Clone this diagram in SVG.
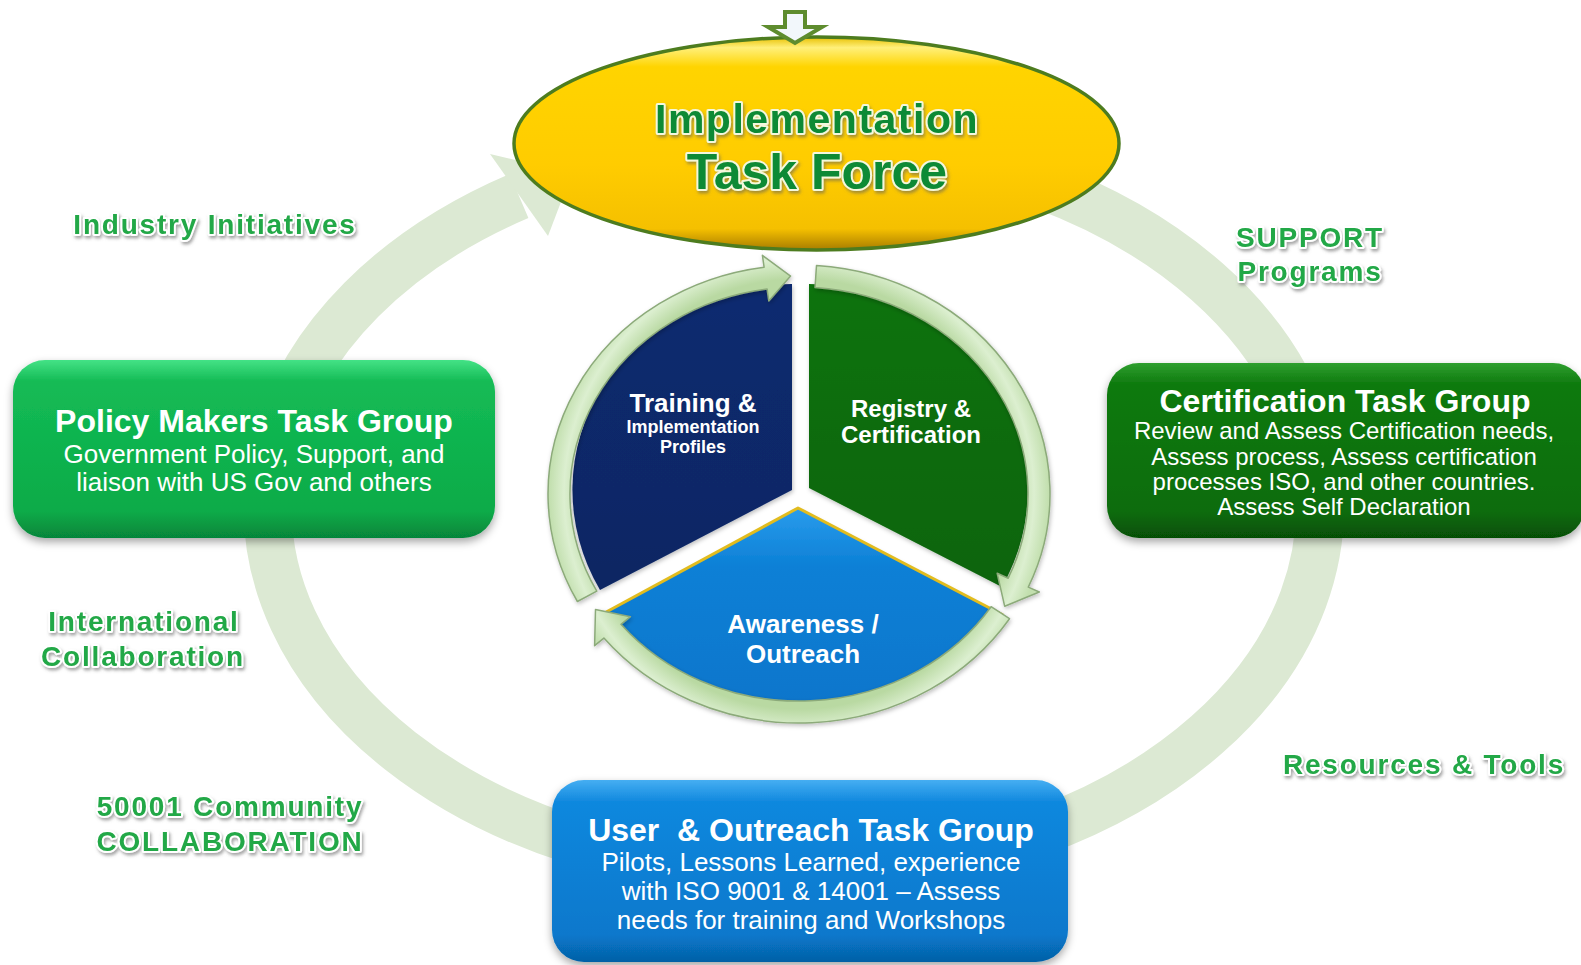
<svg xmlns="http://www.w3.org/2000/svg" width="1581" height="965" viewBox="0 0 1581 965">
<defs>
<style>
.lbl{font-family:"Liberation Sans",Arial,sans-serif;font-weight:bold;font-size:28px;letter-spacing:1.8px;fill:#22a846;stroke:#ffffff;stroke-width:4;stroke-linejoin:round;paint-order:stroke;text-anchor:middle;filter:url(#lblsh)}
.ttl{font-family:"Liberation Sans",Arial,sans-serif;font-weight:bold;fill:#0e8a34;stroke:#f4f8dc;stroke-width:4;stroke-linejoin:round;paint-order:stroke;text-anchor:middle;filter:url(#lblsh)}
.bh{font-family:"Liberation Sans",Arial,sans-serif;font-weight:bold;font-size:32px;fill:#ffffff;text-anchor:middle}
.bt{font-family:"Liberation Sans",Arial,sans-serif;font-size:26px;fill:#ffffff;text-anchor:middle}
.ct{font-family:"Liberation Sans",Arial,sans-serif;font-size:24px;fill:#ffffff;text-anchor:middle}
.pt{font-family:"Liberation Sans",Arial,sans-serif;font-weight:bold;fill:#ffffff;text-anchor:middle}
.ringline{fill:none;stroke:#dce9d3;stroke-width:48}
.ringhead{fill:#dce9d3;stroke:none}
.parr{fill:url(#gArr);stroke:#8caa7a;stroke-width:1.5;stroke-linejoin:round;filter:url(#soft)}
</style>
<filter id="lblsh" x="-10%" y="-30%" width="120%" height="170%">
<feDropShadow dx="1.5" dy="2.5" stdDeviation="1.5" flood-color="#606060" flood-opacity="0.55"/>
</filter>
<filter id="boxsh" x="-5%" y="-10%" width="110%" height="125%">
<feDropShadow dx="0" dy="4" stdDeviation="4" flood-color="#000000" flood-opacity="0.35"/>
</filter>
<filter id="soft" x="-10%" y="-10%" width="120%" height="120%">
<feDropShadow dx="1" dy="2" stdDeviation="2" flood-color="#000000" flood-opacity="0.25"/>
</filter>
<linearGradient id="gGold" x1="0" y1="0" x2="0" y2="1">
<stop offset="0" stop-color="#e8c000"/>
<stop offset="0.05" stop-color="#fff07a"/>
<stop offset="0.14" stop-color="#ffd400"/>
<stop offset="0.6" stop-color="#ffcc00"/>
<stop offset="0.9" stop-color="#f5c000"/>
<stop offset="1" stop-color="#a87c00"/>
</linearGradient>
<linearGradient id="gPol" x1="0" y1="0" x2="0" y2="1">
<stop offset="0" stop-color="#44e286"/>
<stop offset="0.12" stop-color="#14bb55"/>
<stop offset="0.85" stop-color="#0aab48"/>
<stop offset="1" stop-color="#06853a"/>
</linearGradient>
<linearGradient id="gCert" x1="0" y1="0" x2="0" y2="1">
<stop offset="0" stop-color="#2f9f2f"/>
<stop offset="0.12" stop-color="#0e7a0e"/>
<stop offset="0.85" stop-color="#0a6c0a"/>
<stop offset="1" stop-color="#064e06"/>
</linearGradient>
<linearGradient id="gUser" x1="0" y1="0" x2="0" y2="1">
<stop offset="0" stop-color="#45aef2"/>
<stop offset="0.12" stop-color="#1088de"/>
<stop offset="0.85" stop-color="#0878cc"/>
<stop offset="1" stop-color="#0560a6"/>
</linearGradient>
<linearGradient id="gNavy" x1="0" y1="0" x2="0" y2="1">
<stop offset="0" stop-color="#0a2a70"/>
<stop offset="1" stop-color="#0b2763"/>
</linearGradient>
<linearGradient id="gGreen" x1="0" y1="0" x2="0" y2="1">
<stop offset="0" stop-color="#0b730b"/>
<stop offset="1" stop-color="#086408"/>
</linearGradient>
<linearGradient id="gSky" x1="0" y1="0" x2="0" y2="1">
<stop offset="0" stop-color="#2a9cec"/>
<stop offset="0.3" stop-color="#0c80d6"/>
<stop offset="1" stop-color="#0876cc"/>
</linearGradient>
<radialGradient id="gArr" cx="799" cy="494" r="250" gradientUnits="userSpaceOnUse">
<stop offset="0.86" stop-color="#b9d9a2"/>
<stop offset="0.94" stop-color="#dcefd0"/>
<stop offset="1" stop-color="#c2dfae"/>
</radialGradient>
</defs>

<rect x="0" y="0" width="1581" height="965" fill="#ffffff"/>

<g id="connectors">
<path class="ringline" d="M 1041 185 A 526 366 0 1 1 519 196"/>
<polygon class="ringhead" points="490,154 572,173 548,236"/>
</g>

<g id="node-implementation-task-force">
<ellipse cx="816.5" cy="143.5" rx="302.5" ry="106.5" fill="url(#gGold)" stroke="#4d7c1f" stroke-width="3.5"/>
<text class="ttl" x="817" y="133" font-size="41" letter-spacing="1.5">Implementation</text>
<text class="ttl" x="817" y="189" font-size="50">Task Force</text>
</g>

<g id="entry-arrow">
<polygon points="785,12 805,12 805,27 822,27 795,43 768,27 785,27" fill="#f2f7fb" stroke="#5e8c2e" stroke-width="4" stroke-linejoin="miter"/>
</g>

<g id="node-policy-makers">
<rect x="13" y="360" width="482" height="178" rx="32" fill="url(#gPol)" filter="url(#boxsh)"/>
<text class="bh" x="254" y="432">Policy Makers Task Group</text>
<text class="bt" x="254" y="463">Government Policy, Support, and</text>
<text class="bt" x="254" y="491">liaison with US Gov and others</text>
</g>

<g id="node-certification">
<rect x="1107" y="363" width="478" height="175" rx="32" fill="url(#gCert)" filter="url(#boxsh)"/>
<text class="bh" x="1345" y="412">Certification Task Group</text>
<text class="ct" x="1344" y="439">Review and Assess Certification needs,</text>
<text class="ct" x="1344" y="465">Assess process, Assess certification</text>
<text class="ct" x="1344" y="490">processes ISO, and other countries.</text>
<text class="ct" x="1344" y="515">Assess Self Declaration</text>
</g>

<g id="node-user-outreach">
<rect x="552" y="780" width="516" height="182" rx="32" fill="url(#gUser)" filter="url(#boxsh)"/>
<text class="bh" x="811" y="841" xml:space="preserve">User  &amp; Outreach Task Group</text>
<text class="bt" x="811" y="871">Pilots, Lessons Learned, experience</text>
<text class="bt" x="811" y="900">with ISO 9001 &amp; 14001 – Assess</text>
<text class="bt" x="811" y="929">needs for training and Workshops</text>
</g>

<g id="node-training">
<path d="M 792 490 L 792 284 A 219 206 0 0 0 600 590 Z" fill="url(#gNavy)" filter="url(#soft)"/>
<text class="pt" x="693" y="412" font-size="26">Training &amp;</text>
<text class="pt" x="693" y="433" font-size="18">Implementation</text>
<text class="pt" x="693" y="453" font-size="18">Profiles</text>
</g>

<g id="node-registry">
<path d="M 809 488 L 809 284 A 219 206 0 0 1 1002 587 Z" fill="url(#gGreen)" filter="url(#soft)"/>
<text class="pt" x="911" y="417" font-size="24">Registry &amp;</text>
<text class="pt" x="911" y="443" font-size="24">Certification</text>
</g>

<g id="node-awareness">
<path d="M 798 508 L 597 617 A 244 192 0 0 0 1003 615 Z" fill="url(#gSky)" filter="url(#soft)"/>
<polyline points="597,617 798,508 1003,615" fill="none" stroke="#e2bc1e" stroke-width="3" stroke-linejoin="round"/>
<text class="pt" x="803" y="633" font-size="26">Awareness /</text>
<text class="pt" x="803" y="663" font-size="26">Outreach</text>
</g>

<g id="pie-cycle-connectors">
<path class="parr" d="M 577.4 601.5 A 251 229 0 0 1 764.1 267.2 L 762.4 255.3 L 790.6 276.1 L 768.8 300.9 L 767.1 289.0 A 229 207 0 0 0 596.8 591.2 Z"/>
<path class="parr" d="M 816.5 265.5 A 251 229 0 0 1 1028.3 587.1 L 1039.3 592.0 L 1004.7 606.3 L 997.2 573.3 L 1008.2 578.2 A 229 207 0 0 0 815.0 287.5 Z"/>
<path class="parr" d="M 1009.5 618.7 A 251 229 0 0 1 603.9 638.1 L 594.6 645.7 L 595.5 609.5 L 630.4 616.7 L 621.0 624.3 A 229 207 0 0 0 991.1 606.7 Z"/>
</g>

<g id="labels">
<text class="lbl" x="215" y="234">Industry Initiatives</text>
<text class="lbl" x="1310" y="247">SUPPORT</text>
<text class="lbl" x="1310" y="281">Programs</text>
<text class="lbl" x="144" y="631">International</text>
<text class="lbl" x="143" y="666">Collaboration</text>
<text class="lbl" x="230" y="816">50001 Community</text>
<text class="lbl" x="230" y="851">COLLABORATION</text>
<text class="lbl" x="1424" y="774">Resources &amp; Tools</text>
</g>
</svg>
